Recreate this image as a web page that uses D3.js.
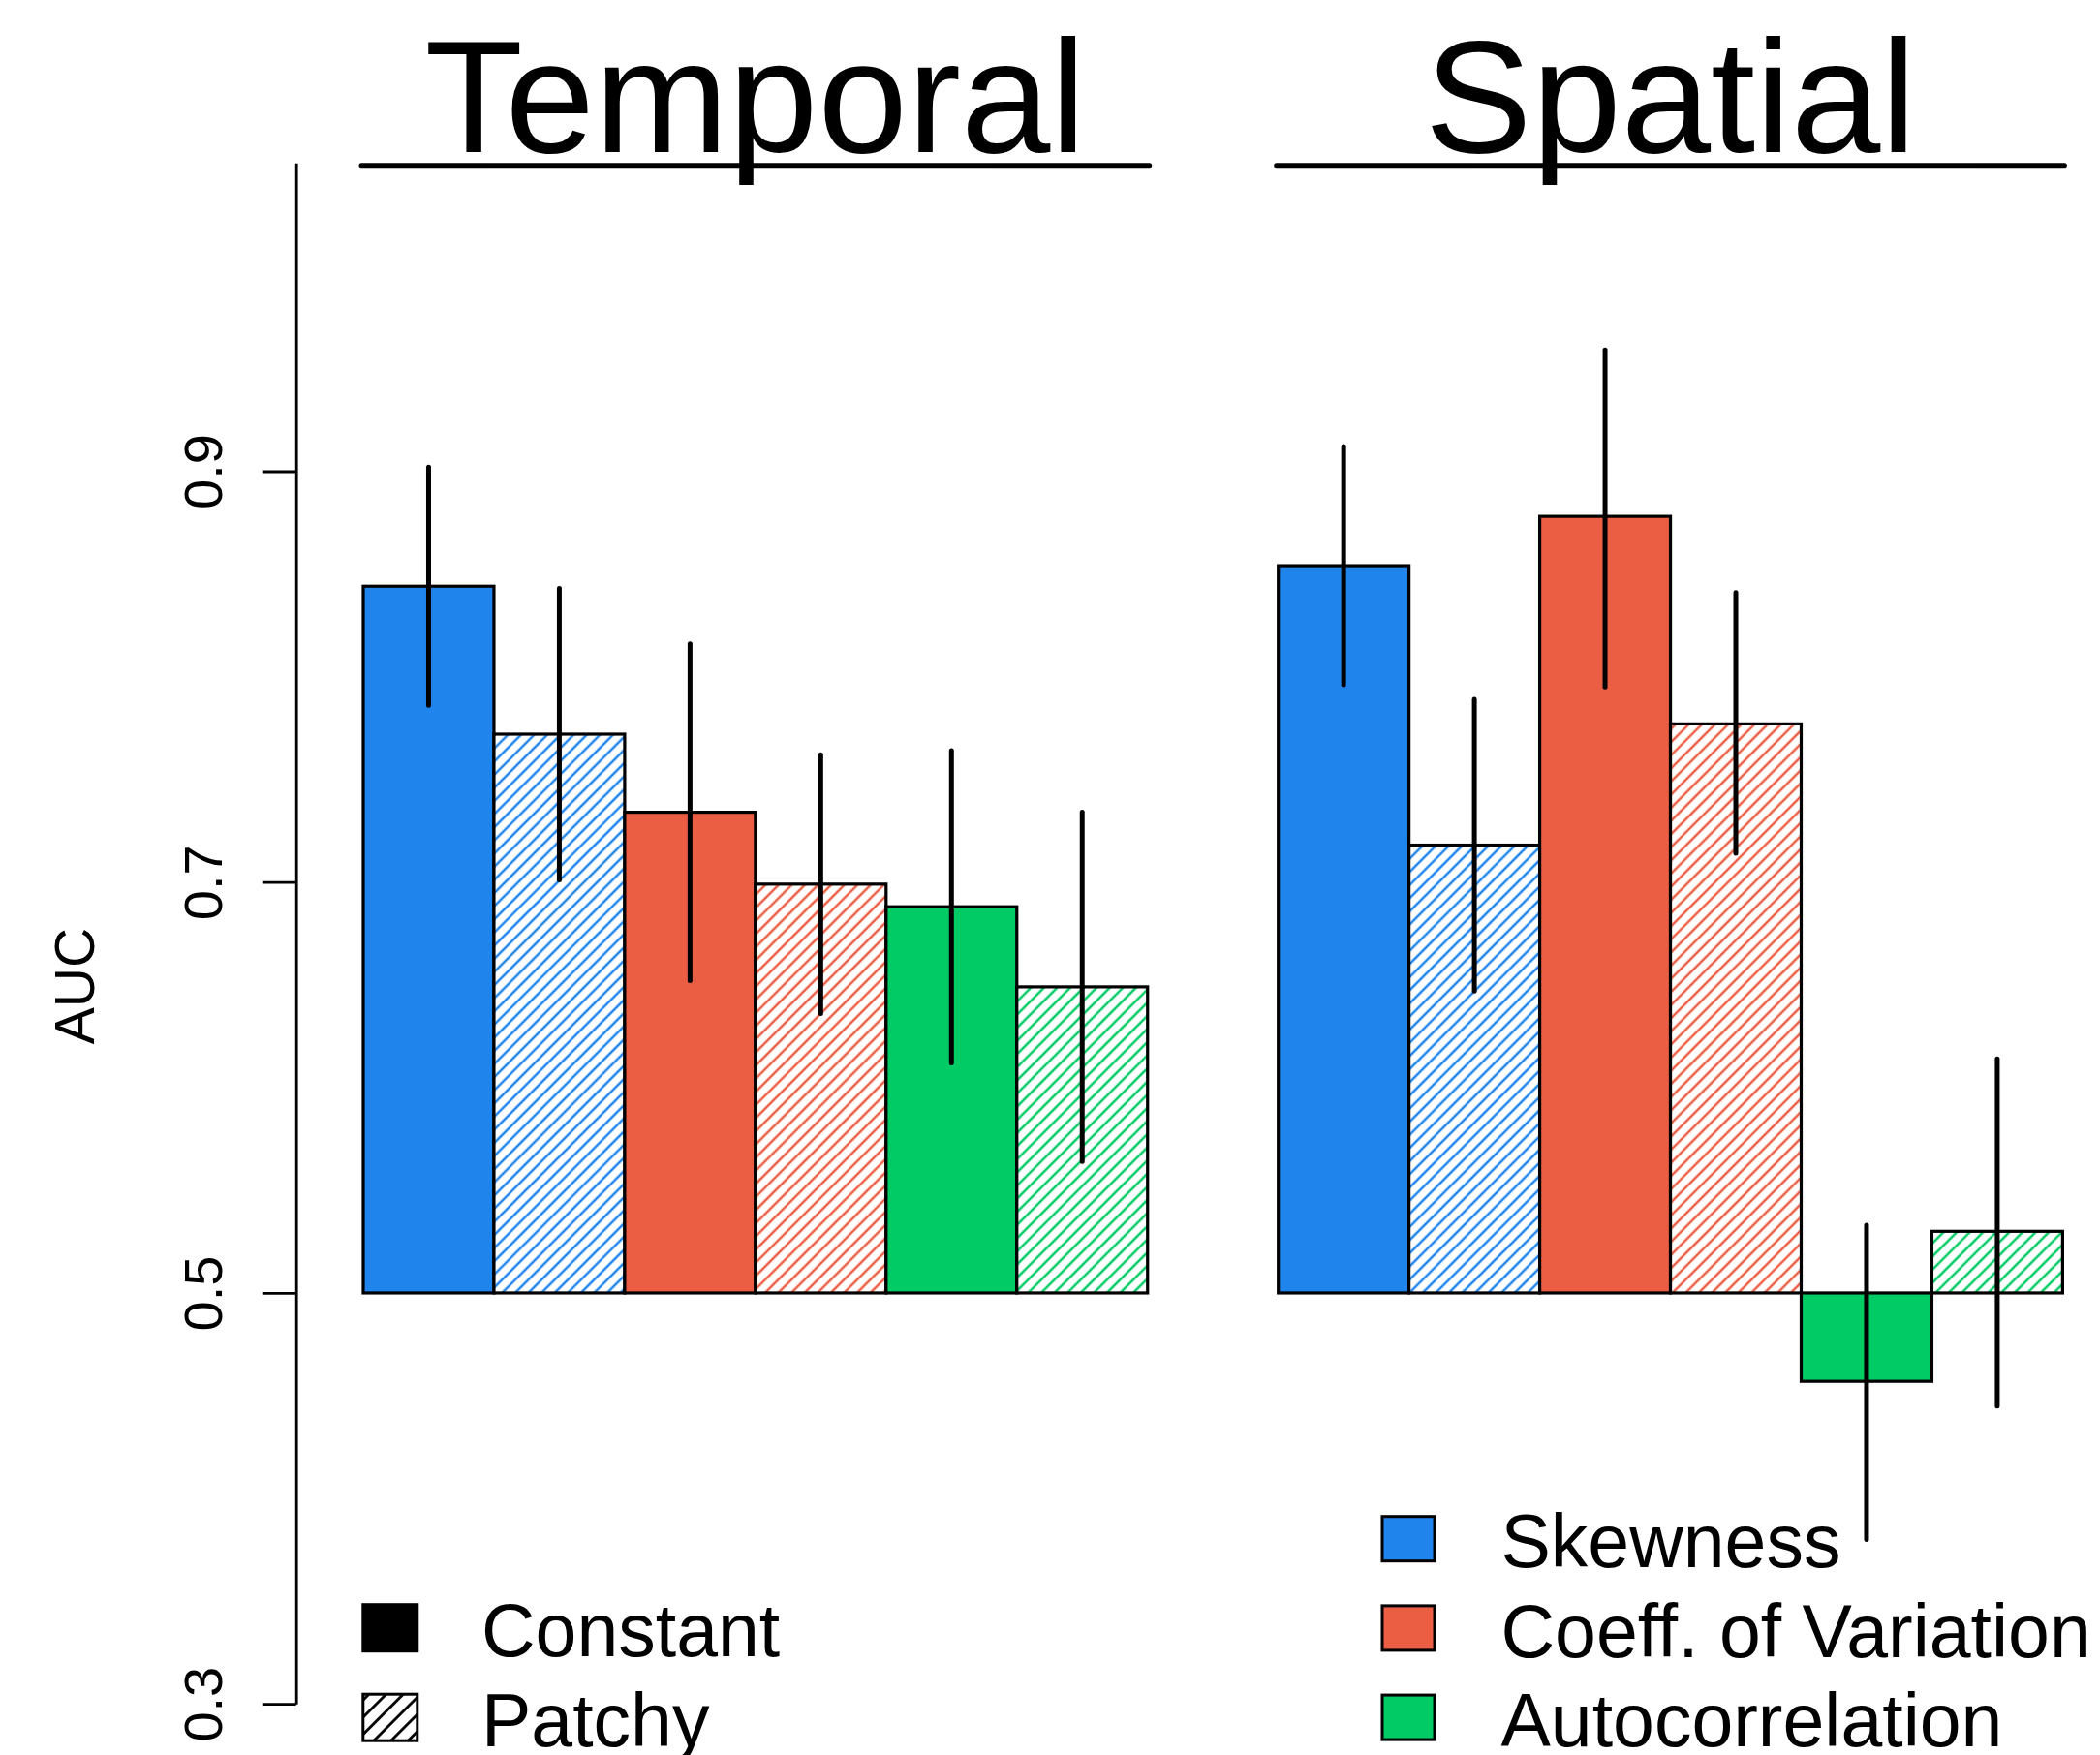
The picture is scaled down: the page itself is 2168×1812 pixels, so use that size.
<!DOCTYPE html>
<html>
<head>
<meta charset="utf-8">
<script src="https://cdn.jsdelivr.net/npm/d3@7"></script>
<style>
  body { margin: 0; background: #fff; }
  svg { display: block; }
  text { font-family: "Liberation Sans", Arial, Helvetica, sans-serif; fill: #000; }
</style>
</head>
<body>
<div id="chart"></div>
<script>
const WIDTH = 2168, HEIGHT = 1812;

// chart data
const groups = ["Temporal", "Spatial"];
const metrics = ["Skewness", "Coeff. of Variation", "Autocorrelation"];
const types = ["Constant", "Patchy"];
const metricColors = ["#1f85ec", "#ec5e44", "#00cb65"];

// per group: Skew const, Skew patchy, CV const, CV patchy, AC const, AC patchy
const temporalAUC = [0.844, 0.772, 0.734, 0.699, 0.688, 0.649];
const temporalLow = [0.786, 0.701, 0.652, 0.636, 0.612, 0.564];
const temporalHigh = [0.902, 0.843, 0.816, 0.762, 0.764, 0.734];
const spatialAUC = [0.854, 0.718, 0.878, 0.777, 0.457, 0.530];
const spatialLow = [0.796, 0.647, 0.795, 0.714, 0.380, 0.445];
const spatialHigh = [0.912, 0.789, 0.959, 0.841, 0.533, 0.614];
const yTicks = [0.3, 0.5, 0.7, 0.9];
const baseline = 0.5;

let svg = d3.select("#chart")
    .append("svg")
    .attr("width", WIDTH)
    .attr("height", HEIGHT);

// bar positions in "bar units": group 1 spans 1..7, group 2 spans 8..14
let x = d3.scaleLinear()
    .domain([1, 14])
    .range([375, 2129.4]);

let y = d3.scaleLinear()
    .domain([0.3, 1.05])
    .range([1759.2, 168.3]);

// hatch patterns, one per colour plus a sparser black one for the legend
let defs = svg.append("defs");
function hatchId(color) { return "hatch-" + color.replace("#", ""); }
function addHatch(id, color, gap, lw) {
    let p = defs.append("pattern")
        .attr("id", id)
        .attr("patternUnits", "userSpaceOnUse")
        .attr("width", gap)
        .attr("height", gap)
        .attr("patternTransform", "rotate(45)");
    p.append("rect").attr("width", gap).attr("height", gap).attr("fill", "white");
    p.append("line")
        .attr("x1", gap / 2).attr("x2", gap / 2)
        .attr("y1", 0).attr("y2", gap)
        .attr("stroke", color)
        .attr("stroke-width", lw);
}
metricColors.forEach(c => addHatch(hatchId(c), c, 9.6, 2.5));
addHatch("hatch-legend", "#000000", 12.5, 2.8);

// build flat list of bars
let bars = [];
[[temporalAUC, temporalLow, temporalHigh], [spatialAUC, spatialLow, spatialHigh]].forEach(function (g, gi) {
    g[0].forEach(function (v, i) {
        bars.push({
            group: gi,
            pos: 1 + gi * 7 + i,
            value: v,
            low: g[1][i],
            high: g[2][i],
            color: metricColors[Math.floor(i / 2)],
            patchy: i % 2 === 1
        });
    });
});

// y axis
let yAxis = svg.append("g")
    .attr("transform", "translate(305.7,0)")
    .call(d3.axisLeft(y).tickValues(yTicks).tickSize(34).tickSizeOuter(0).tickFormat(d3.format(".1f")));
yAxis.select(".domain").attr("stroke-width", 2.8);
yAxis.selectAll(".tick line").attr("stroke-width", 2.8);
yAxis.selectAll(".tick text")
    .attr("transform", "rotate(-90)")
    .attr("x", 0)
    .attr("y", -76.7)
    .attr("dy", 0)
    .style("text-anchor", "middle")
    .style("font-size", "56px")
    .style("font-family", "'Liberation Sans', Arial, Helvetica, sans-serif");

// y axis label
svg.append("text")
    .attr("transform", "translate(96.7,1018) rotate(-90)")
    .style("text-anchor", "middle")
    .style("font-size", "57px")
    .text("AUC");

// bars
svg.append("g").selectAll("rect")
    .data(bars)
    .enter()
    .append("rect")
    .attr("x", d => x(d.pos))
    .attr("width", d => x(d.pos + 1) - x(d.pos))
    .attr("y", d => y(Math.max(d.value, baseline)))
    .attr("height", d => Math.abs(y(d.value) - y(baseline)))
    .attr("fill", d => d.patchy ? "url(#" + hatchId(d.color) + ")" : d.color)
    .attr("stroke", "black")
    .attr("stroke-width", 3.2);

// error bars
svg.append("g").selectAll("line")
    .data(bars)
    .enter()
    .append("line")
    .attr("x1", d => x(d.pos + 0.5))
    .attr("x2", d => x(d.pos + 0.5))
    .attr("y1", d => y(d.low))
    .attr("y2", d => y(d.high))
    .attr("stroke", "black")
    .attr("stroke-width", 5)
    .attr("stroke-linecap", "round");

// group titles with underline
groups.forEach(function (name, gi) {
    let left = x(1 + gi * 7), right = x(7 + gi * 7);
    svg.append("text")
        .attr("x", (left + right) / 2)
        .attr("y", 156.7)
        .style("text-anchor", "middle")
        .style("font-size", "166px")
        .text(name);
    svg.append("line")
        .attr("x1", left - 2)
        .attr("x2", right + 2)
        .attr("y1", 170.8)
        .attr("y2", 170.8)
        .attr("stroke", "black")
        .attr("stroke-width", 5)
        .attr("stroke-linecap", "round");
});

// legend: bar type (bottom left)
let typeLegend = svg.append("g");
types.forEach(function (t, i) {
    let top = 1656.7 + i * 92.5;
    typeLegend.append("rect")
        .attr("x", 374.8)
        .attr("y", top)
        .attr("width", 56)
        .attr("height", 48)
        .attr("fill", i === 0 ? "black" : "url(#hatch-legend)")
        .attr("stroke", "black")
        .attr("stroke-width", 3);
    typeLegend.append("text")
        .attr("x", 497)
        .attr("y", top + 53.3)
        .style("font-size", "77px")
        .text(t);
});

// legend: metric colour (bottom right)
let metricLegend = svg.append("g");
metrics.forEach(function (m, i) {
    let top = 1565.7 + i * 92.2;
    metricLegend.append("rect")
        .attr("x", 1427)
        .attr("y", top)
        .attr("width", 54)
        .attr("height", 46)
        .attr("fill", metricColors[i])
        .attr("stroke", "black")
        .attr("stroke-width", 3);
    metricLegend.append("text")
        .attr("x", 1549.5)
        .attr("y", top + 52.6)
        .style("font-size", "77px")
        .text(m);
});
</script>
</body>
</html>
